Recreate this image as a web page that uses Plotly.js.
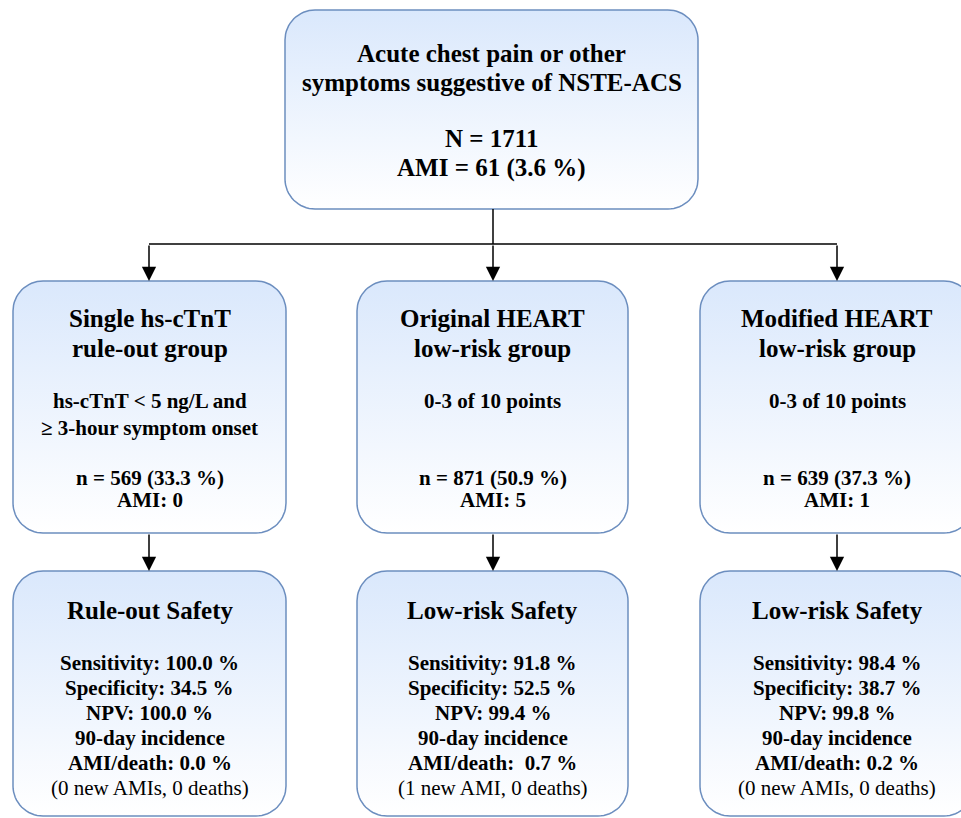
<!DOCTYPE html>
<html>
<head>
<meta charset="utf-8">
<script src="https://cdn.plot.ly/plotly-3.0.1.min.js"></script>
<style>html,body{margin:0;padding:0;background:#fff;}</style>
</head>
<body>
<div id="chart" style="width:961px;height:818px;"></div>
<script>
// ---- data ----
const totalN = 1711;
const totalAMI = 61;
const totalAMIPct = 3.6;
const groupTitles = [["Single hs-cTnT", "rule-out group"], ["Original HEART", "low-risk group"], ["Modified HEART", "low-risk group"]];
const groupCriteria = [["hs-cTnT < 5 ng/L and", "\u2265 3-hour symptom onset"], ["0-3 of 10 points"], ["0-3 of 10 points"]];
const groupN = [569, 871, 639];
const groupPct = [33.3, 50.9, 37.3];
const groupAMI = [0, 5, 1];
const safetyTitles = ["Rule-out Safety", "Low-risk Safety", "Low-risk Safety"];
const sensitivity = [100.0, 91.8, 98.4];
const specificity = [34.5, 52.5, 38.7];
const npv = [100.0, 99.4, 99.8];
const incidence90 = [0.0, 0.7, 0.2];
const incidenceLabel = ["AMI/death: ", "AMI/death:\u00a0 ", "AMI/death: "];
const newAMIs = ["0 new AMIs", "1 new AMI", "0 new AMIs"];
const deaths = [0, 0, 0];

// ---- layout geometry (pixels) ----
const W = 961, H = 818;
const topBox = {x0: 285, x1: 698, y0: 10, y1: 209};
const colX = [[13, 286], [357, 628], [700, 974]];
const row2 = {y0: 281, y1: 533};
const row3 = {y0: 571, y1: 816};
const R = 30;
const FONT = "Liberation Serif, Times New Roman, serif";

function roundedRect(b) {
  const xs = [], ys = [];
  const corners = [
    [b.x1 - R, b.y0 + R, -Math.PI / 2, 0],
    [b.x1 - R, b.y1 - R, 0, Math.PI / 2],
    [b.x0 + R, b.y1 - R, Math.PI / 2, Math.PI],
    [b.x0 + R, b.y0 + R, Math.PI, 1.5 * Math.PI]
  ];
  corners.forEach(c => {
    for (let i = 0; i <= 16; i++) {
      const a = c[2] + (c[3] - c[2]) * i / 16;
      xs.push(c[0] + R * Math.cos(a));
      ys.push(c[1] + R * Math.sin(a));
    }
  });
  xs.push(xs[0]); ys.push(ys[0]);
  return {xs, ys};
}

const traces = [];
function addBox(b) {
  const p = roundedRect(b);
  traces.push({
    type: "scatter", mode: "lines", x: p.xs, y: p.ys,
    fill: "toself",
    fillgradient: {type: "vertical", start: b.y1, stop: b.y0,
      colorscale: [[0, "#ffffff"], [1, "#dae8fc"]]},
    line: {color: "#6c8ebf", width: 1.5},
    hoverinfo: "skip", showlegend: false
  });
}

addBox(topBox);
colX.forEach(c => {
  addBox({x0: c[0], x1: c[1], y0: row2.y0, y1: row2.y1});
  addBox({x0: c[0], x1: c[1], y0: row3.y0, y1: row3.y1});
});

const annotations = [];
function txt(x, y, t, size, bold) {
  annotations.push({
    x: x, y: y, xref: "x", yref: "y", text: t, showarrow: false,
    xanchor: "center", yanchor: "middle",
    font: {family: FONT, size: size, color: "#000", weight: bold === false ? "normal" : "bold"}
  });
}
function arrow(x, yFrom, yTo) {
  annotations.push({
    x: x, y: yTo, ax: x, ay: yFrom, xref: "x", yref: "y", axref: "x", ayref: "y",
    text: "", showarrow: true, arrowhead: 2, arrowsize: 1.9, arrowwidth: 1.5,
    arrowcolor: "#000", standoff: 0
  });
}

const topCx = (topBox.x0 + topBox.x1) / 2;
txt(topCx, 53, "Acute chest pain or other", 25);
txt(topCx, 82, "symptoms suggestive of NSTE-ACS", 25);
txt(topCx, 138, "N = " + totalN, 25);
txt(topCx, 168, "AMI = " + totalAMI + " (" + totalAMIPct.toFixed(1) + " %)", 25);

const arrowX = [149, 493, 837];
colX.forEach((c, i) => {
  const cx = (c[0] + c[1]) / 2;
  txt(cx, 318, groupTitles[i][0], 25);
  txt(cx, 348, groupTitles[i][1], 25);
  groupCriteria[i].forEach((line, k) => txt(cx, 401 + k * 27, line, 21));
  txt(cx, 478, "n = " + groupN[i] + " (" + groupPct[i].toFixed(1) + " %)", 21);
  txt(cx, 500, "AMI: " + groupAMI[i], 21);

  txt(cx, 610, safetyTitles[i], 25);
  txt(cx, 663, "Sensitivity: " + sensitivity[i].toFixed(1) + " %", 21);
  txt(cx, 688, "Specificity: " + specificity[i].toFixed(1) + " %", 21);
  txt(cx, 713, "NPV: " + npv[i].toFixed(1) + " %", 21);
  txt(cx, 738, "90-day incidence", 21);
  txt(cx, 763, incidenceLabel[i] + incidence90[i].toFixed(1) + " %", 21);
  txt(cx, 788, "(" + newAMIs[i] + ", " + deaths[i] + " deaths)", 21, false);

  arrow(arrowX[i], 244, row2.y0);
  arrow(arrowX[i], row2.y1, row3.y0);
});

const shapes = [
  {type: "line", xref: "x", yref: "y", x0: 493, x1: 493, y0: topBox.y1, y1: 244, line: {color: "#000", width: 1.5}},
  {type: "line", xref: "x", yref: "y", x0: arrowX[0], x1: arrowX[2], y0: 244, y1: 244, line: {color: "#000", width: 1.5}}
];

const layout = {
  width: W, height: H,
  margin: {l: 0, r: 0, t: 0, b: 0},
  paper_bgcolor: "#ffffff", plot_bgcolor: "#ffffff",
  xaxis: {range: [0, W], visible: false, fixedrange: true},
  yaxis: {range: [H, 0], visible: false, fixedrange: true},
  showlegend: false,
  annotations: annotations,
  shapes: shapes
};

Plotly.newPlot("chart", traces, layout, {staticPlot: true, displayModeBar: false});
</script>
</body>
</html>
